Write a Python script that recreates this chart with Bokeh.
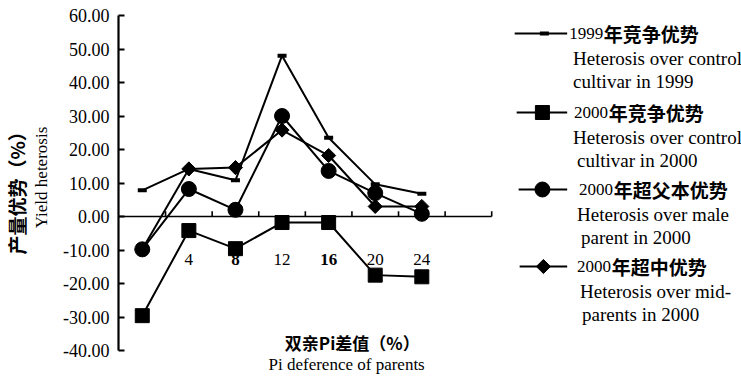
import math
from bokeh.plotting import figure
from bokeh.models import Range1d, FixedTicker, PrintfTickFormatter, Label, Title
from bokeh.embed import file_html
from bokeh.resources import INLINE

# ---------------- data ----------------
pi_diff = [0, 4, 8, 12, 16, 20, 24]
het_ctrl_1999 = [7.8, 14.2, 10.8, 48.0, 23.5, 9.6, 6.8]
het_ctrl_2000 = [-29.6, -4.2, -9.6, -1.8, -1.8, -17.5, -18.0]
het_male_2000 = [-9.8, 8.2, 2.0, 30.0, 13.6, 7.0, 0.8]
het_mid_2000 = [-9.8, 14.2, 14.6, 25.8, 18.2, 3.0, 3.0]

x_tick_values = [4, 8, 12, 16, 20, 24]
x_tick_labels = ["4", "8", "12", "16", "20", "24"]
x_tick_styles = ["normal", "bold", "normal", "bold", "normal", "normal"]
x_tick_marks = [-2, 2, 6, 10, 14, 18, 22, 26, 30]
y_ticks = [-40, -30, -20, -10, 0, 10, 20, 30, 40, 50, 60]

legend_years = ["1999", "2000", "2000", "2000"]
legend_cn = ["年竞争优势", "年竞争优势", "年超父本优势", "年超中优势"]
legend_en1 = ["Heterosis over control", "Heterosis over control",
              "Heterosis over male", "Heterosis over mid-"]
legend_en2 = ["cultivar in 1999", "cultivar in 2000",
              "parent in 2000", "parents in 2000"]

# ---------------- geometry helpers (page pixels -> data) ----------------
X0_PX, X_SCALE = 136.0, 11.76
Y0_PX, Y_SCALE = 216.0, 3.35


def fx(px):
    return (px - X0_PX) / X_SCALE


def fy(py):
    return (Y0_PX - py) / Y_SCALE


SERIF = "Liberation Serif"
CJK = "Noto Sans CJK SC"
W, H = 741, 380
LEFT, BOTTOM = 112, 354

p = figure(width=W, height=H, output_backend="svg", toolbar_location=None,
           x_range=Range1d(fx(LEFT), fx(W)), y_range=Range1d(fy(BOTTOM), fy(0)),
           x_axis_location=None, min_border_left=LEFT, min_border_right=0,
           min_border_top=0, min_border_bottom=H - BOTTOM)
p.title.visible = False
p.outline_line_color = None
p.xgrid.visible = False
p.ygrid.visible = False
p.background_fill_color = "white"

ax = p.yaxis[0]
ax.ticker = FixedTicker(ticks=y_ticks)
ax.formatter = PrintfTickFormatter(format="%.2f")
ax.bounds = (-40, 60)
ax.axis_line_width = 2.2
ax.axis_line_color = "black"
ax.major_tick_in = 6
ax.major_tick_out = 0
ax.major_tick_line_width = 2
ax.minor_tick_line_color = None
ax.major_label_standoff = 9
ax.major_label_text_font = SERIF
ax.major_label_text_font_size = "18px"
ax.major_label_text_color = "black"
ax.axis_label = "Yield heterosis"
ax.axis_label_standoff = 9
ax.axis_label_text_font = SERIF
ax.axis_label_text_font_size = "17px"
ax.axis_label_text_font_style = "normal"
ax.axis_label_text_color = "black"

# Chinese y title (vertical, outermost in the left panel)
p.add_layout(Title(text="产量优势（%）", align="left", offset=100, standoff=0,
                   vertical_align="bottom", text_font=CJK, text_font_size="19px",
                   text_font_style="bold", text_color="black"), "left")

# English x title (below the frame)
p.add_layout(Title(text="Pi deference of parents", align="left", offset=150, standoff=0,
                   vertical_align="top", text_font=SERIF, text_font_size="17px",
                   text_font_style="normal", text_color="black"), "below")

# zero line with upward ticks
p.segment(x0=x_tick_marks[0], y0=0, x1=x_tick_marks[-1], y1=0,
          line_color="black", line_width=1.6)
p.segment(x0=x_tick_marks[1:], y0=[0] * (len(x_tick_marks) - 1),
          x1=x_tick_marks[1:], y1=[1.6] * (len(x_tick_marks) - 1),
          line_color="black", line_width=1.6)

# series
p.line(pi_diff, het_ctrl_1999, line_color="black", line_width=2)
p.scatter(pi_diff, het_ctrl_1999, marker="dash", size=9, line_width=4, line_color="black")

p.line(pi_diff, het_ctrl_2000, line_color="black", line_width=2)
p.scatter(pi_diff, het_ctrl_2000, marker="square", size=14, color="black")

p.line(pi_diff, het_male_2000, line_color="black", line_width=2)
p.scatter(pi_diff, het_male_2000, marker="circle", size=15, color="black")

p.line(pi_diff, het_mid_2000, line_color="black", line_width=2)
p.scatter(pi_diff, het_mid_2000, marker="square", angle=math.pi / 4, size=10, color="black")

# x tick labels inside the plot
for xv, lab, st in zip(x_tick_values, x_tick_labels, x_tick_styles):
    p.add_layout(Label(x=xv, y=fy(259), text=lab, text_align="center",
                       text_baseline="middle", text_font=SERIF, text_font_style=st,
                       text_font_size="17px", text_color="black"))

# Chinese x title
p.add_layout(Label(x=fx(348), y=fy(342), text="双亲Pi差值（%）",
                   text_align="center", text_baseline="middle", text_font=CJK,
                   text_font_style="bold", text_font_size="17px", text_color="black"))

# legend (drawn manually)
rows_y = [33, 112, 189, 266]
line_x0 = [512, 514, 516, 517]
marker_x = [542, 540, 540, 541]
num_x = [567, 572, 577, 575]
en1_x = [571, 571, 575, 578]
en2_x = [571, 575, 579, 580]
markers = [("dash", 9, 0, 4), ("square", 14, 0, 1), ("circle", 15, 0, 1),
           ("square", 10, math.pi / 4, 1)]
for i in range(4):
    ry = rows_y[i]
    p.segment(x0=fx(line_x0[i]), y0=fy(ry), x1=fx(565), y1=fy(ry),
              line_color="black", line_width=2)
    m, s, a, lw = markers[i]
    p.scatter([fx(marker_x[i])], [fy(ry)], marker=m, size=s, angle=a,
              line_width=lw, color="black")
    p.add_layout(Label(x=fx(num_x[i]), y=fy(ry), text=legend_years[i],
                       text_align="left", text_baseline="middle", text_font=SERIF,
                       text_font_size="17px", text_color="black"))
    p.add_layout(Label(x=fx(num_x[i] + 35), y=fy(ry), text=legend_cn[i],
                       text_align="left", text_baseline="middle", text_font=CJK,
                       text_font_style="bold", text_font_size="19px", text_color="black"))
    p.add_layout(Label(x=fx(en1_x[i]), y=fy(ry + 25), text=legend_en1[i],
                       text_align="left", text_baseline="middle", text_font=SERIF,
                       text_font_size="19px", text_color="black"))
    p.add_layout(Label(x=fx(en2_x[i]), y=fy(ry + 48), text=legend_en2[i],
                       text_align="left", text_baseline="middle", text_font=SERIF,
                       text_font_size="19px", text_color="black"))

open("out.html", "w").write(file_html(p, INLINE))
